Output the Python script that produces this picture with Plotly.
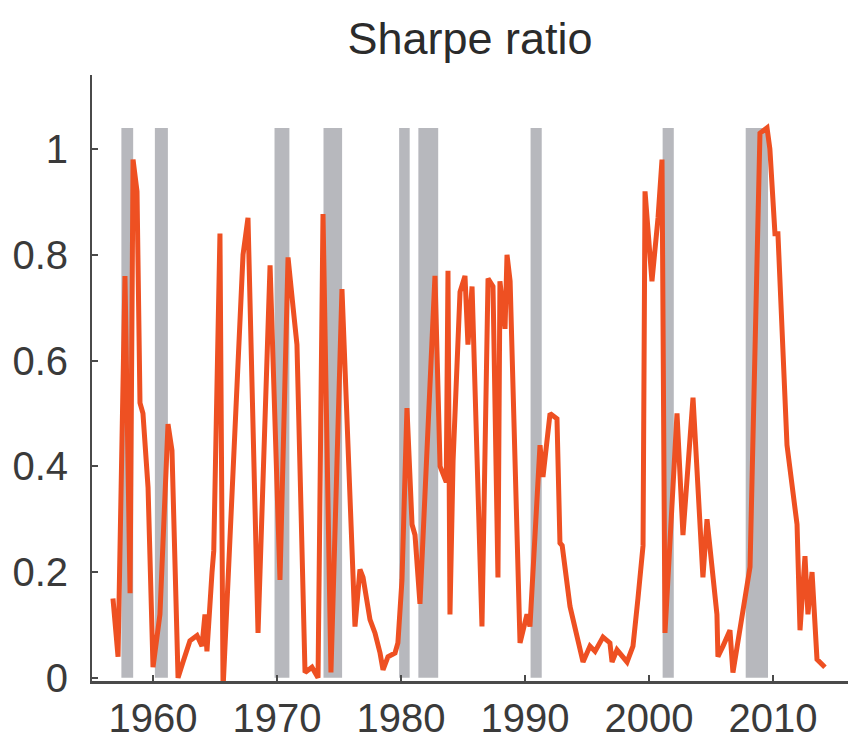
import plotly.graph_objects as go

years = [1956.77, 1957.18, 1957.74, 1958.15, 1958.39, 1958.71, 1958.95, 1959.19, 1959.60, 1960.00,
         1960.56, 1961.21, 1961.53, 1962.02, 1962.42, 1962.98, 1963.55, 1963.95, 1964.19, 1964.35,
         1964.76, 1964.90, 1965.40, 1965.65, 1967.26, 1967.66, 1968.47, 1969.44, 1970.24, 1970.89,
         1971.30, 1971.61, 1972.26, 1972.82, 1973.31, 1973.71, 1974.35, 1975.24, 1976.29, 1976.69,
         1976.94, 1977.50, 1977.90, 1978.31, 1978.55, 1978.95, 1979.52, 1979.75, 1980.08, 1980.48,
         1980.89, 1981.13, 1981.53, 1982.74, 1983.15, 1983.65, 1983.79, 1983.95, 1984.20, 1984.76,
         1985.16, 1985.40, 1985.73, 1986.53, 1987.02, 1987.42, 1987.82, 1987.98, 1988.39, 1988.55,
         1988.80, 1989.60, 1990.16, 1990.40, 1991.21, 1991.45, 1992.02, 1992.58, 1992.82, 1993.00,
         1993.63, 1994.68, 1995.24, 1995.65, 1996.29, 1996.85, 1997.02, 1997.42, 1998.23, 1998.71,
         1999.11, 1999.52, 1999.68, 2000.24, 2000.73, 2001.05, 2001.29, 2002.26, 2002.74, 2003.55,
         2004.35, 2004.68, 2005.48, 2005.56, 2005.97, 2006.53, 2006.77, 2007.58, 2008.15, 2008.95,
         2009.52, 2009.75, 2010.16, 2010.40, 2011.13, 2011.94, 2012.18, 2012.58, 2012.82, 2013.15,
         2013.55, 2014.19]
sharpe = [0.15, 0.04, 0.76, 0.16, 0.98, 0.92, 0.52, 0.50, 0.36, 0.02,
          0.12, 0.48, 0.43, 0.00, 0.03, 0.07, 0.08, 0.06, 0.12, 0.05,
          0.20, 0.24, 0.84, -0.02, 0.80, 0.87, 0.085, 0.78, 0.185, 0.795,
          0.70, 0.63, 0.01, 0.02, 0.00, 0.877, 0.01, 0.735, 0.097, 0.205,
          0.19, 0.11, 0.085, 0.047, 0.015, 0.04, 0.047, 0.066, 0.185, 0.51,
          0.29, 0.27, 0.14, 0.76, 0.40, 0.37, 0.77, 0.12, 0.41, 0.73,
          0.76, 0.63, 0.74, 0.097, 0.755, 0.74, 0.19, 0.75, 0.66, 0.80,
          0.75, 0.066, 0.12, 0.097, 0.44, 0.38, 0.50, 0.49, 0.255, 0.25,
          0.135, 0.03, 0.06, 0.05, 0.077, 0.066, 0.03, 0.053, 0.03, 0.06,
          0.15, 0.25, 0.92, 0.75, 0.87, 0.98, 0.085, 0.50, 0.27, 0.53,
          0.19, 0.30, 0.12, 0.04, 0.06, 0.09, 0.01, 0.135, 0.21, 1.03,
          1.04, 1.00, 0.84, 0.84, 0.44, 0.29, 0.09, 0.23, 0.12, 0.20,
          0.035, 0.02]

rec_start = [1957.45, 1960.15, 1969.8, 1973.75, 1979.85, 1981.4, 1990.45, 2001.1, 2007.8]
rec_end = [1958.4, 1961.2, 1971.0, 1975.25, 1980.7, 1983.0, 1991.35, 2002.0, 2009.6]
rec_top = 1.04

xticks = [1960, 1970, 1980, 1990, 2000, 2010]
yticks = [0, 0.2, 0.4, 0.6, 0.8, 1]
ytick_text = ["0", "0.2", "0.4", "0.6", "0.8", "1"]

fig = go.Figure()
fig.add_trace(go.Scatter(x=years, y=sharpe, mode="lines",
                         line=dict(color="#EE5022", width=5), hoverinfo="skip"))

for s, e in zip(rec_start, rec_end):
    fig.add_shape(type="rect", xref="x", yref="y", x0=s, x1=e, y0=0, y1=rec_top,
                  fillcolor="#B7B8BD", line=dict(width=0), layer="below")

axis_col = "#4a4a4a"
font_fam = "Liberation Sans, Arial, Helvetica, sans-serif"
fig.update_layout(
    width=848, height=741,
    margin=dict(l=92, r=0, t=75, b=60),
    plot_bgcolor="white", paper_bgcolor="white",
    showlegend=False,
    title=dict(text="Sharpe ratio", x=0.5, xref="paper", xanchor="center",
               y=1 - 38 / 741, yref="container", yanchor="middle",
               font=dict(family=font_fam, size=45, color="#2b2b2b")),
    font=dict(family=font_fam, color="#3a3a3a"),
)
fig.update_xaxes(range=[1955.08, 2016.05], tickvals=xticks, ticks="inside", ticklen=6,
                 tickwidth=2, tickcolor=axis_col, showline=True, linecolor=axis_col,
                 linewidth=2.5, showgrid=False, zeroline=False,
                 tickfont=dict(size=40, color="#3a3a3a"), ticklabelstandoff=0)
fig.update_yaxes(range=[-0.006, 1.14], tickvals=yticks, ticktext=ytick_text, ticks="inside",
                 ticklen=6, tickwidth=2, tickcolor=axis_col, showline=True,
                 linecolor=axis_col, linewidth=2, showgrid=False, zeroline=False,
                 tickfont=dict(size=40, color="#3a3a3a"), ticklabelstandoff=14)

fig.write_html("out.html")
